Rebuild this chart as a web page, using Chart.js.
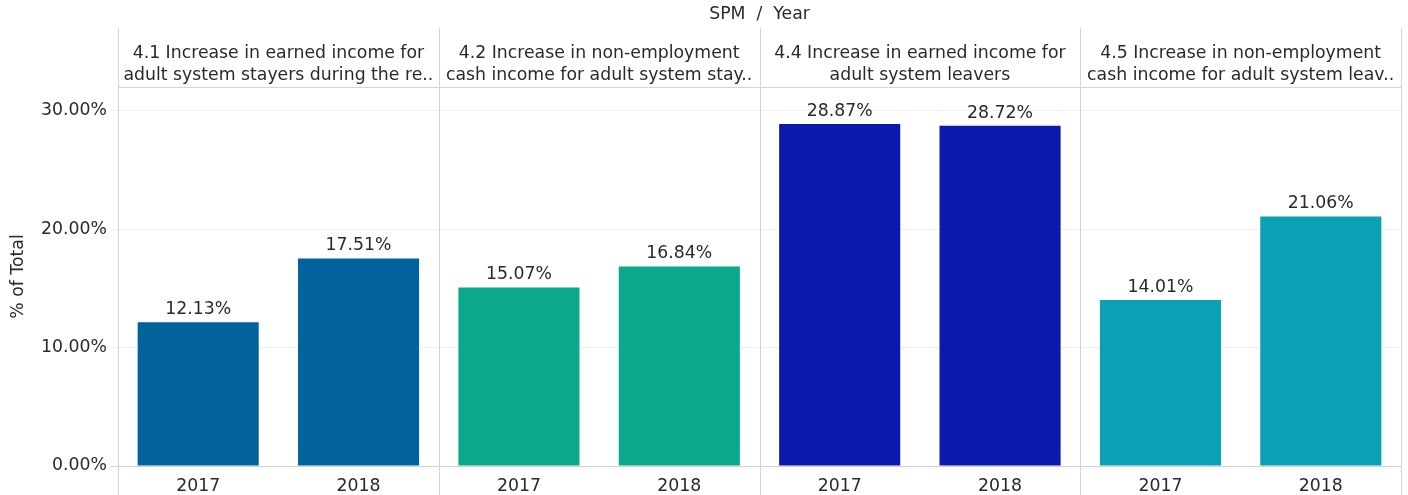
<!DOCTYPE html>
<html>
<head>
<meta charset="utf-8">
<script src="https://cdn.jsdelivr.net/npm/chart.js@4.4.0/dist/chart.umd.min.js"></script>
<style>
    html, body { margin: 0; padding: 0; background: #fff; }
    #wrap { width: 1408px; height: 495px; position: relative; }
</style>
</head>
<body>
<div id="wrap"><canvas id="spm-chart"></canvas></div>
<script>
// datos
var years = ['2017', '2018'];
var spmNames = [
    ['4.1 Increase in earned income for', 'adult system stayers during the re..'],
    ['4.2 Increase in non-employment', 'cash income for adult system stay..'],
    ['4.4 Increase in earned income for', 'adult system leavers'],
    ['4.5 Increase in non-employment', 'cash income for adult system leav..']
];
var spm41 = [12.13, 17.51];
var spm42 = [15.07, 16.84];
var spm44 = [28.87, 28.72];
var spm45 = [14.01, 21.06];
var yTicks = [0, 10, 20, 30];
var spmColors = ['#02629c', '#0aa98c', '#0a19ae', '#0ba1b4'];

var FONT = '"DejaVu Sans", Verdana, sans-serif';
var FSIZE = 17.3;
var TXT = '#2a2a2a';

// etiquetas y valores en orden
var labels = [];
var valores = [];
var colores = [];
[spm41, spm42, spm44, spm45].forEach(function (serie, i) {
    serie.forEach(function (v, j) {
        labels.push(years[j]);
        valores.push(v);
        colores.push(spmColors[i]);
    });
});

// paneles y cabeceras
var panelPlugin = {
    id: 'paneles',
    afterDraw: function (chart) {
        var ctx = chart.ctx;
        var area = chart.chartArea;
        var n = spmNames.length;
        var w = (area.right - area.left) / n;
        ctx.save();
        ctx.strokeStyle = '#d4d4d4';
        ctx.lineWidth = 1;
        for (var i = 0; i <= n; i++) {
            var px = Math.round(area.left + i * w) + 0.5;
            ctx.beginPath();
            ctx.moveTo(px, 28);
            ctx.lineTo(px, 495);
            ctx.stroke();
        }
        ctx.beginPath();
        ctx.moveTo(area.left, area.top + 0.5);
        ctx.lineTo(area.right, area.top + 0.5);
        ctx.stroke();

        ctx.fillStyle = TXT;
        ctx.font = FSIZE + 'px ' + FONT;
        ctx.textAlign = 'center';
        ctx.textBaseline = 'middle';
        ctx.fillText('SPM  /  Year', (area.left + area.right) / 2, 15);
        for (var k = 0; k < n; k++) {
            var cx = area.left + (k + 0.5) * w;
            ctx.fillText(spmNames[k][0], cx, 54);
            ctx.fillText(spmNames[k][1], cx, 76);
        }

        // etiquetas de valor
        var meta = chart.getDatasetMeta(0);
        ctx.textBaseline = 'bottom';
        meta.data.forEach(function (bar, idx) {
            ctx.fillText(valores[idx].toFixed(2) + '%', bar.x, bar.y - 4);
        });
        ctx.restore();
    }
};

var miCanvas = document.getElementById('spm-chart').getContext('2d');
var miGrafico = new Chart(miCanvas, {
    type: 'bar',
    data: {
        labels: labels,
        datasets: [{
            label: '% of Total',
            data: valores,
            backgroundColor: colores,
            barPercentage: 0.755,
            categoryPercentage: 1
        }]
    },
    options: {
        responsive: true,
        maintainAspectRatio: false,
        animation: false,
        layout: { padding: { top: 87, right: 7, left: 0, bottom: 0 } },
        plugins: {
            legend: { display: false },
            tooltip: { enabled: false }
        },
        scales: {
            x: {
                grid: { display: false },
                border: { display: false },
                ticks: { color: TXT, font: { family: FONT, size: FSIZE }, padding: 2, maxRotation: 0 },
                afterFit: function (scale) { scale.height = 29; }
            },
            y: {
                min: 0,
                max: 32,
                afterBuildTicks: function (scale) {
                    scale.ticks = yTicks.map(function (v) { return { value: v }; });
                },
                grid: {
                    color: function (c) { return c.tick && c.tick.value === 0 ? '#d0d0d0' : '#f0f0f0'; },
                    tickLength: 7
                },
                border: { display: false },
                ticks: {
                    color: TXT,
                    font: { family: FONT, size: FSIZE },
                    padding: 4,
                    callback: function (v) { return v.toFixed(2) + '%'; }
                },
                title: {
                    display: true,
                    text: '% of Total',
                    color: TXT,
                    font: { family: FONT, size: FSIZE },
                    padding: { top: 8, bottom: 0 }
                },
                afterFit: function (scale) { scale.width = 118; }
            }
        }
    },
    plugins: [panelPlugin]
});
</script>
</body>
</html>
